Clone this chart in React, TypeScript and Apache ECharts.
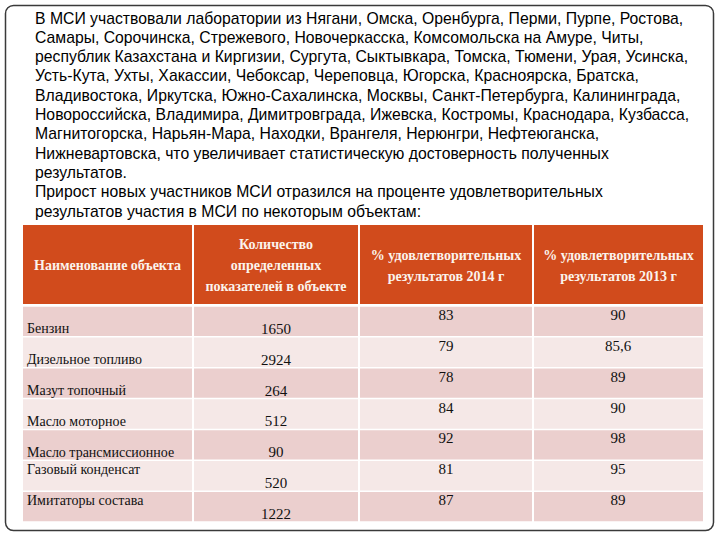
import React, { useEffect, useRef } from "react";
import * as echarts from "echarts";

const PARAGRAPH_LINES = [
  "В МСИ участвовали лаборатории из Нягани, Омска, Оренбурга, Перми, Пурпе, Ростова,",
  "Самары, Сорочинска, Стрежевого, Новочеркасска, Комсомольска на Амуре, Читы,",
  "республик Казахстана и Киргизии, Сургута, Сыктывкара, Томска, Тюмени, Урая, Усинска,",
  "Усть-Кута, Ухты, Хакассии, Чебоксар, Череповца, Югорска, Красноярска, Братска,",
  "Владивостока, Иркутска, Южно-Сахалинска, Москвы, Санкт-Петербурга, Калининграда,",
  "Новороссийска, Владимира, Димитровграда, Ижевска, Костромы, Краснодара, Кузбасса,",
  "Магнитогорска, Нарьян-Мара, Находки, Врангеля, Нерюнгри, Нефтеюганска,",
  "Нижневартовска, что увеличивает статистическую достоверность полученных",
  "результатов.",
  "Прирост новых участников МСИ отразился на проценте удовлетворительных",
  "результатов участия в МСИ по некоторым объектам:",
];

const HEADERS = [
  "Наименование объекта",
  "Количество\nопределенных\nпоказателей в объекте",
  "% удовлетворительных\nрезультатов 2014 г",
  "% удовлетворительных\nрезультатов 2013 г",
];

const OBJECTS = [
  "Бензин",
  "Дизельное топливо",
  "Мазут топочный",
  "Масло моторное",
  "Масло трансмиссионное",
  "Газовый конденсат",
  "Имитаторы состава",
];
const INDICATOR_COUNTS = [1650, 2924, 264, 512, 90, 520, 1222];
const PCT_2014 = [83, 79, 78, 84, 92, 81, 87];
const PCT_2013 = [90, 85.6, 89, 90, 98, 95, 89];

// layout
const TABLE_LEFT = 23;
const TABLE_RIGHT = 703;
const HEADER_TOP = 225;
const HEADER_BOTTOM = 304;
const BODY_TOP = 306;
const BODY_BOTTOM = 522;
const COL_EDGES = [0, 170, 336, 510, 680];
const TOP_ALIGNED_LABEL_ROWS = [5, 6];
const HEADER_COLOR = "#D14B1C";
const ROW_DARK = "#EBCFCE";
const ROW_LIGHT = "#F5E8E7";
const SERIF = "'Liberation Serif', 'DejaVu Serif', serif";
const SANS = "'Liberation Sans', Arial, sans-serif";

const fmt = (v: number) => String(v).replace(".", ",");

export default function App() {
  const ref = useRef<HTMLDivElement>(null);
  useEffect(() => {
    if (!ref.current) return;
    const chart = echarts.init(ref.current, null, { renderer: "svg" });

    const graphics: any[] = [];
    graphics.push({
      type: "rect",
      shape: { x: 5.5, y: 5.5, width: 708, height: 525, r: 8 },
      style: { fill: "#fff", stroke: "#3a3a3a", lineWidth: 1.5 },
      z: 0,
    });
    PARAGRAPH_LINES.forEach((line, i) => {
      graphics.push({
        type: "text",
        x: 35,
        y: 18 + i * 19.3,
        z: 5,
        style: {
          text: line,
          fill: "#000",
          font: `15.75px ${SANS}`,
          textAlign: "left",
          align: "left",
          textVerticalAlign: "middle",
          verticalAlign: "middle",
        },
      });
    });
    HEADERS.forEach((h, c) => {
      const x0 = TABLE_LEFT + COL_EDGES[c] + (c > 0 ? 1 : 0);
      const x1 = TABLE_LEFT + COL_EDGES[c + 1] - (c < HEADERS.length - 1 ? 1 : 0);
      graphics.push({
        type: "rect",
        shape: { x: x0, y: HEADER_TOP, width: x1 - x0, height: HEADER_BOTTOM - HEADER_TOP },
        style: { fill: HEADER_COLOR },
        z: 2,
      });
      graphics.push({
        type: "text",
        x: (x0 + x1) / 2,
        y: (HEADER_TOP + HEADER_BOTTOM) / 2 + 1,
        z: 5,
        style: {
          text: h,
          fill: "#FBF3EC",
          font: `bold 14px ${SERIF}`,
          lineHeight: 21,
          textAlign: "center",
          align: "center",
          textVerticalAlign: "middle",
          verticalAlign: "middle",
        },
      });
    });

    const renderItem = (params: any, api: any) => {
      const i = params.dataIndex;
      const cs = params.coordSys;
      const center = api.coord([0, i]);
      const band = api.size([0, 1])[1];
      const top = center[1] - band / 2;
      const bottom = center[1] + band / 2;
      const fill = i % 2 === 0 ? ROW_DARK : ROW_LIGHT;
      const children: any[] = [];
      for (let c = 0; c < 4; c++) {
        const x0 = cs.x + COL_EDGES[c] + (c > 0 ? 1 : 0);
        const x1 = cs.x + COL_EDGES[c + 1] - (c < 3 ? 1 : 0);
        children.push({
          type: "rect",
          shape: { x: x0, y: top + 0.75, width: x1 - x0, height: band - 1.5 },
          style: { fill },
        });
      }
      const txt = (text: string, x: number, y: number, align: string, size: number) => ({
        type: "text",
        x,
        y,
        style: {
          text,
          fill: "#111",
          font: `${size}px ${SERIF}`,
          textAlign: align,
          align,
          textVerticalAlign: "middle",
          verticalAlign: "middle",
        },
      });
      const labelTop = TOP_ALIGNED_LABEL_ROWS.includes(i);
      children.push(txt(OBJECTS[i], cs.x + 4, labelTop ? top + 9 : bottom - 8, "left", 14));
      children.push(
        txt(String(INDICATOR_COUNTS[i]), cs.x + (COL_EDGES[1] + COL_EDGES[2]) / 2, bottom - 8, "center", 15)
      );
      children.push(txt(fmt(PCT_2014[i]), cs.x + (COL_EDGES[2] + COL_EDGES[3]) / 2, top + 9, "center", 15));
      children.push(txt(fmt(PCT_2013[i]), cs.x + (COL_EDGES[3] + COL_EDGES[4]) / 2, top + 9, "center", 15));
      return { type: "group", children };
    };

    chart.setOption({
      animation: false,
      graphic: { elements: graphics },
      grid: {
        left: TABLE_LEFT,
        top: BODY_TOP,
        width: TABLE_RIGHT - TABLE_LEFT,
        height: BODY_BOTTOM - BODY_TOP,
        containLabel: false,
        z: 3,
      },
      xAxis: { type: "value", min: 0, max: 1, show: false },
      yAxis: { type: "category", data: OBJECTS, inverse: true, show: false },
      series: [
        {
          type: "custom",
          z: 3,
          renderItem,
          data: OBJECTS.map((_, i) => [0, i]),
          encode: { x: 0, y: 1 },
          silent: true,
        },
      ],
    });
    return () => chart.dispose();
  }, []);
  return (
    <div
      ref={ref}
      style={{ position: "fixed", left: 0, top: 0, width: 720, height: 540, background: "#fff" }}
    />
  );
}
